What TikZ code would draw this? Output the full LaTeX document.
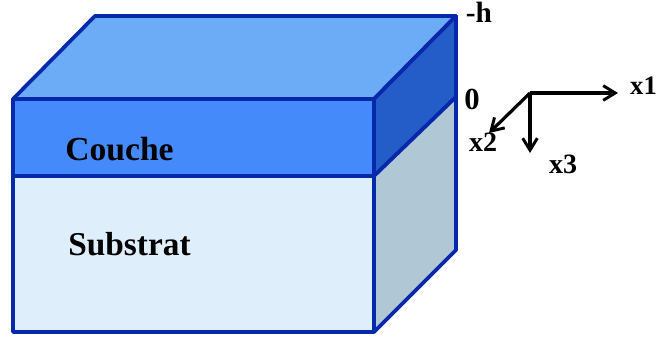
\documentclass[tikz,border=0pt]{standalone}
\usepackage{fontspec}
\setmainfont{Liberation Serif}
\usetikzlibrary{arrows.meta}
\definecolor{edgeblue}{RGB}{6,40,170}
\definecolor{topblue}{RGB}{108,172,246}
\definecolor{layerblue}{RGB}{68,138,250}
\definecolor{layerside}{RGB}{36,92,200}
\definecolor{subfront}{RGB}{222,238,250}
\definecolor{subside}{RGB}{176,200,214}
\tikzset{
  face/.style={draw=edgeblue,line width=2.8pt,line join=round},
  lab/.style={font=\bfseries,text=black,inner sep=0pt,anchor=base},
  axis/.style={draw=black,line width=2.4pt,-{Straight Barb[length=9pt,width=11pt,line width=2.2pt]}}
}
\begin{document}
\begin{tikzpicture}[x=0.75pt,y=-0.75pt]
\useasboundingbox (0,0) rectangle (656,336);
\coordinate (ftl) at (13,99);
\coordinate (ftr) at (374,99);
\coordinate (fml) at (13,176);
\coordinate (fmr) at (374,176);
\coordinate (fbl) at (13,332);
\coordinate (fbr) at (374,332);
\coordinate (btl) at (95,16);
\coordinate (btr) at (456,16);
\coordinate (bmr) at (456,97);
\coordinate (bbr) at (456,250);
\draw[face,fill=topblue] (ftl) -- (btl) -- (btr) -- (ftr) -- cycle;
\draw[face,fill=layerside] (ftr) -- (btr) -- (bmr) -- (fmr) -- cycle;
\draw[face,fill=subside] (fmr) -- (bmr) -- (bbr) -- (fbr) -- cycle;
\draw[face,fill=layerblue] (ftl) -- (ftr) -- (fmr) -- (fml) -- cycle;
\draw[face,fill=subfront] (fml) -- (fmr) -- (fbr) -- (fbl) -- cycle;
\node[lab,font=\bfseries\fontsize{25.2}{26}\selectfont] (couche) at (119.5,160) {Couche};
\node[lab,font=\bfseries\fontsize{25}{26}\selectfont] (substrat) at (129.5,255) {Substrat};
\node[lab,font=\bfseries\fontsize{22}{24}\selectfont] (h) at (479,22) {-h};
\node[lab,font=\bfseries\fontsize{23}{24}\selectfont] (zero) at (472,109) {0};
\coordinate (o) at (530,93);
\coordinate (e1) at (618,93);
\coordinate (e2) at (489,133);
\coordinate (e3) at (530,153);
\draw[axis] (o) -- (e1);
\draw[axis] (o) -- (e2);
\draw[axis] (o) -- (e3);
\node[lab,font=\bfseries\fontsize{20}{22}\selectfont] (x1) at (643.5,94) {x1};
\node[lab,font=\bfseries\fontsize{21}{22}\selectfont] (x2) at (483,151) {x2};
\node[lab,font=\bfseries\fontsize{21}{22}\selectfont] (x3) at (563,173) {x3};
\end{tikzpicture}
\end{document}
